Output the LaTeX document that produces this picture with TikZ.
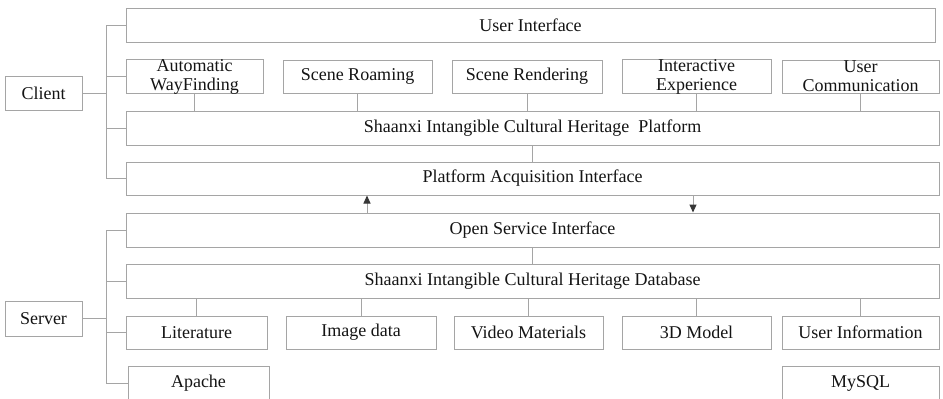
\documentclass[tikz,border=0pt]{standalone}
\usepackage{fontspec}
\setmainfont{LiberationSerif}[Extension=.ttf,UprightFont=*-Regular,BoldFont=*-Bold]
\usetikzlibrary{arrows.meta}
\definecolor{edge}{RGB}{165,165,165}
\definecolor{ink}{RGB}{20,20,20}
\definecolor{tip}{RGB}{55,55,55}
\begin{document}
\begin{tikzpicture}[x=1pt,y=-1pt,
  box/.style={draw=edge,line width=1pt,fill=white,inner sep=0pt,text=ink,
    align=center,font=\fontsize{18}{19}\selectfont},
  wire/.style={draw=edge,line width=1pt},
  flow/.style={draw=edge,line width=1pt,-{Triangle[length=8pt,width=7pt,fill=tip,color=tip]}}]
\useasboundingbox (0,0) rectangle (943,399);
\clip (0,0) rectangle (943,399);
\fill[white] (0,0) rectangle (943,399);

% client side
\node[box,minimum width=77,minimum height=34] (client) at (43.5,93) {Client};
\node[box,minimum width=809,minimum height=34] (ui) at (530.5,25) {User Interface};
\node[box,minimum width=137,minimum height=33] (auto) at (194.5,76.5) {Automatic\\WayFinding};
\node[box,minimum width=149,minimum height=33] (roam) at (357.5,76.5) {Scene Roaming};
\node[box,minimum width=150,minimum height=33] (rend) at (527,76.5) {Scene Rendering};
\node[box,minimum width=149,minimum height=33] (inter) at (696.5,76.5) {Interactive\\Experience};
\node[box,minimum width=157,minimum height=33] (comm) at (860.5,76.5) {User\\Communication};
\node[box,minimum width=813,minimum height=34] (plat) at (532.5,128) {Shaanxi Intangible Cultural Heritage\ \ Platform};
\node[box,minimum width=813,minimum height=33] (pai) at (532.5,178.5) {Platform Acquisition Interface};

% server side
\node[box,minimum width=77,minimum height=35] (server) at (43.5,318.5) {Server};
\node[box,minimum width=813,minimum height=34] (osi) at (532.5,230) {Open Service Interface};
\node[box,minimum width=813,minimum height=34] (db) at (532.5,281) {Shaanxi Intangible Cultural Heritage Database};
\node[box,minimum width=141,minimum height=33] (lit) at (196.5,332.5) {Literature};
\node[box,minimum width=150,minimum height=33] (img) at (361,332.5) {Image data};
\node[box,minimum width=149,minimum height=33] (video) at (528.5,332.5) {Video Materials};
\node[box,minimum width=149,minimum height=33] (model) at (696.5,332.5) {3D Model};
\node[box,minimum width=157,minimum height=33] (uinfo) at (860.5,332.5) {User Information};
\node[box,minimum width=141,minimum height=34] (apache) at (198.5,383) {Apache};
\node[box,minimum width=157,minimum height=34] (mysql) at (860.5,383) {MySQL};

% bus lines
\coordinate (bus) at (106,0);
\draw[wire] (client.east) -- (client.east -| bus);
\draw[wire] (ui.west -| bus) -- (pai.west -| bus);
\foreach \n in {ui,auto,plat,pai} \draw[wire] (\n.west) -- (\n.west -| bus);
\draw[wire] (server.east) -- (server.east -| bus);
\draw[wire] (osi.west -| bus) -- (apache.west -| bus);
\foreach \n in {osi,db,lit,apache} \draw[wire] (\n.west) -- (\n.west -| bus);

% function modules to platform
\foreach \n in {auto,roam,rend,inter,comm} \draw[wire] (\n.south) -- (\n.south |- plat.north);
\draw[wire] (plat.south) -- (pai.north);
% data modules to database
\foreach \n in {lit,img,video,model,uinfo} \draw[wire] (\n.north) -- (\n.north |- db.south);
\draw[wire] (osi.south) -- (db.north);

% request / response
\coordinate (up) at (367,0);
\coordinate (down) at (693,0);
\draw[flow] (osi.north -| up) -- (pai.south -| up);
\draw[flow] (pai.south -| down) -- (osi.north -| down);
\end{tikzpicture}
\end{document}
